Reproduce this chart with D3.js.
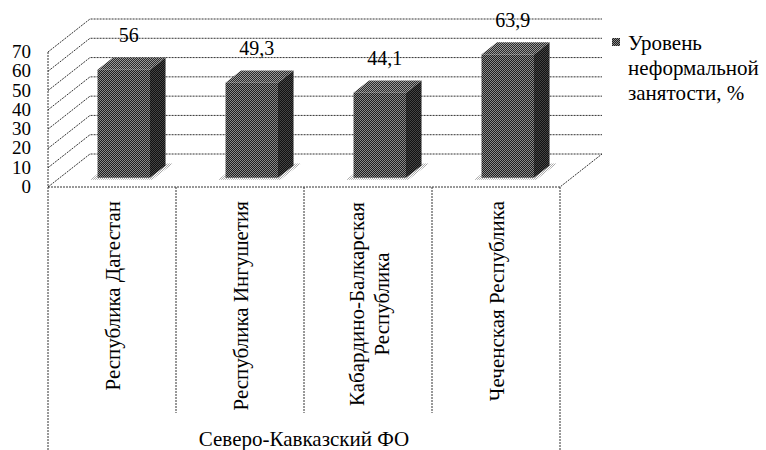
<!DOCTYPE html>
<html>
<head>
<meta charset="utf-8">
<script src="https://cdn.jsdelivr.net/npm/d3@7"></script>
<style>body{margin:0;background:#fff}</style>
</head>
<body>
<div id="chart"></div>
<script>
// data
const categories = ['Республика Дагестан', 'Республика Ингушетия', 'Кабардино-Балкарская Республика', 'Чеченская Республика'];
const categoryLines = [['Республика Дагестан'], ['Республика Ингушетия'], ['Кабардино-Балкарская', 'Республика'], ['Чеченская Республика']];
const values = [56, 49.3, 44.1, 63.9];
const valueLabels = ['56', '49,3', '44,1', '63,9'];
const yTicks = [0, 10, 20, 30, 40, 50, 60, 70];
const groupLabel = 'Северо-Кавказский ФО';
const legendLines = ['Уровень', 'неформальной', 'занятости, %'];

const width = 766, height = 450;
const left = 48, right = 560, base = 187;
const depthX = 42, depthY = -33; // back wall offset
const barFront = 0.28, barBack = 0.65;
const labelTop = 201;
const ink = '#1a1a1a';

const svg = d3.select('#chart').append('svg')
    .attr('width', width).attr('height', height);

const x = d3.scaleBand().domain(categories).range([left, right]);
const y = d3.scaleLinear().domain([0, 70]).range([base, base - 135]);

// point in the 3d box: px on front plane, value v, depth d (0 front .. 1 back)
const P = (px, v, d) => [px + d * depthX, y(v) + d * depthY];
const poly = pts => 'M' + pts.map(p => p.join(',')).join('L') + 'Z';
const line = pts => 'M' + pts.map(p => p.join(',')).join('L');

// dithered fills
const defs = svg.append('defs');
function checker(id, a, b) {
    const p = defs.append('pattern').attr('id', id)
        .attr('width', 2).attr('height', 2).attr('patternUnits', 'userSpaceOnUse');
    p.append('rect').attr('width', 2).attr('height', 2).attr('fill', a);
    p.append('rect').attr('width', 1).attr('height', 1).attr('fill', b);
    p.append('rect').attr('x', 1).attr('y', 1).attr('width', 1).attr('height', 1).attr('fill', b);
}
checker('front', '#1e1e1e', '#8a8a8a');
checker('side', '#111', '#444');
checker('top', '#2a2a2a', '#9a9a9a');
checker('shadow', '#fff', '#aaa');

const grid = svg.append('g')
    .attr('fill', 'none').attr('stroke', '#333')
    .attr('stroke-width', 1).attr('stroke-dasharray', '2,1');

// gridlines on side and back wall
grid.selectAll('path.grid').data(yTicks).join('path')
    .attr('class', 'grid')
    .attr('d', t => line([P(left, t, 0), P(left, t, 1), P(right, t, 1)]));

// floor front and right edges
grid.append('path').attr('d', line([P(left, 0, 0), P(right, 0, 0), P(right, 0, 1)]));

// outer axis lines going down into the category table
grid.append('path').attr('d', line([[left, y(70)], [left, height]]));
grid.append('path').attr('d', line([[right, base], [right, height]]));
// inner category dividers
grid.selectAll('path.div').data(categories.slice(1)).join('path')
    .attr('class', 'div')
    .attr('d', c => line([[x(c), base], [x(c), 413]]));

// bars
const bw = x.bandwidth() * 0.41;
values.forEach((v, i) => {
    const g = svg.append('g');
    const bx = x(categories[i]) + (x.bandwidth() - bw) / 2;
    const s = 5;
    g.append('path').attr('fill', 'url(#shadow)')
        .attr('d', poly([P(bx - s, 0, barFront - 0.06), P(bx + bw + s, 0, barFront - 0.06),
                         P(bx + bw + s, 0, barBack + 0.06), P(bx - s, 0, barBack + 0.06)]));
    g.append('path').attr('fill', 'url(#side)')
        .attr('d', poly([P(bx + bw, 0, barFront), P(bx + bw, v, barFront),
                         P(bx + bw, v, barBack), P(bx + bw, 0, barBack)]));
    g.append('path').attr('fill', 'url(#top)')
        .attr('d', poly([P(bx, v, barFront), P(bx + bw, v, barFront),
                         P(bx + bw, v, barBack), P(bx, v, barBack)]));
    g.append('path').attr('fill', 'url(#front)')
        .attr('d', poly([P(bx, 0, barFront), P(bx + bw, 0, barFront),
                         P(bx + bw, v, barFront), P(bx, v, barFront)]));
});

// texts: each group tries a different serif family name
function label(txt, size, fam) {
    return svg.append('text')
        .attr('font-family', fam)
        .attr('font-size', size)
        .text(txt);
}

// value labels
values.forEach((v, i) => {
    const bx = x(categories[i]) + (x.bandwidth() - bw) / 2;
    const top = P(bx + bw / 2, v, barFront);
    label(valueLabels[i], 20, "'Times New Roman'")
        .attr('x', top[0] + 5).attr('y', top[1] - 28)
        .attr('text-anchor', 'middle');
});

// y tick labels
yTicks.forEach(t => {
    label(String(t), 19, "'Tinos'")
        .attr('x', 31).attr('y', y(t) + 6)
        .attr('text-anchor', 'end');
});

// category labels (rotated, reading upward, hanging from the table top)
categoryLines.forEach((lines, i) => {
    const cx = x(categories[i]) + x.bandwidth() / 2;
    lines.forEach((txt, j) => {
        const lx = cx + 8 + (j - (lines.length - 1) / 2) * 25;
        const t = label(txt, 21, 'serif');
        if (lines.length === 1) {
            t.attr('text-anchor', 'end')
                .attr('transform', `translate(${lx},${labelTop}) rotate(-90)`);
        } else {
            t.attr('text-anchor', 'middle')
                .attr('transform', `translate(${lx},${labelTop + 103}) rotate(-90)`);
        }
    });
});

// group label
label(groupLabel, 21, "'Liberation Serif'")
    .attr('x', (left + right) / 2).attr('y', 446)
    .attr('text-anchor', 'middle');

// legend
svg.append('rect')
    .attr('x', 612).attr('y', 38).attr('width', 8).attr('height', 8)
    .attr('fill', 'url(#front)');
legendLines.forEach((txt, i) => {
    label(txt, 21, "'Liberation Serif'").attr('x', 628).attr('y', 50 + i * 25);
});
</script>
</body>
</html>
